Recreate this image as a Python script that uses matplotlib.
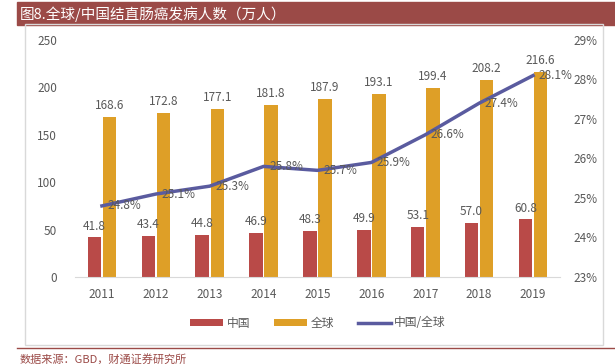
import matplotlib.pyplot as plt
import matplotlib.patches as patches
import matplotlib.lines as mlines
import numpy as np

plt.rcParams['font.family'] = ['Noto Sans CJK SC', 'DejaVu Sans']

# 数据
years = ['2011', '2012', '2013', '2014', '2015', '2016', '2017', '2018', '2019']
china = [41.8, 43.4, 44.8, 46.9, 48.3, 49.9, 53.1, 57.0, 60.8]
world = [168.6, 172.8, 177.1, 181.8, 187.9, 193.1, 199.4, 208.2, 216.6]
ratio = [24.8, 25.1, 25.3, 25.8, 25.7, 25.9, 26.6, 27.4, 28.1]

c_china = '#B94A48'
c_world = '#DE9F27'
c_line = '#5A5B9F'
c_text = '#595959'

W, H = 615, 364
fig = plt.figure(figsize=(W / 100, H / 100), dpi=100)

# 标题栏
fig.patches.append(patches.Rectangle((17 / W, 1 - 25 / H), 1 - 17 / W, 23 / H,
                                     transform=fig.transFigure, color='#9B4A47', zorder=0))
fig.text(20 / W, 1 - 14 / H, '图8.全球/中国结直肠癌发病人数（万人）', color='white',
         fontsize=10.5, va='center', ha='left')

# 图表外框
fig.patches.append(patches.Rectangle((25 / W, 1 - 345 / H), 578 / W, 321 / H,
                                     transform=fig.transFigure, fill=False,
                                     edgecolor='#D9D9D9', linewidth=1, zorder=0))
# 底部分隔线
fig.lines.append(mlines.Line2D([17 / W, 1], [1 - 347.5 / H] * 2, transform=fig.transFigure,
                               color='#9B4A47', linewidth=1))
fig.text(20 / W, 1 - 359 / H, '数据来源：GBD，财通证券研究所', color='#9B4A47',
         fontsize=8, va='center', ha='left')

ax = fig.add_axes([75 / W, 87 / H, 485 / W, 237 / H])
x = np.arange(len(years))
bw = 0.25
ax.bar(x - bw / 2 - 0.015, china, bw, color=c_china, label='中国', zorder=2)
ax.bar(x + bw / 2 + 0.015, world, bw, color=c_world, label='全球', zorder=2)
for i in range(len(years)):
    ax.text(x[i] - bw / 2 - 0.015, china[i] + 5, f'{china[i]:.1f}', ha='center', va='bottom',
            fontsize=8.5, color=c_text)
    ax.text(x[i] + bw / 2 + 0.015, world[i] + 5, f'{world[i]:.1f}', ha='center', va='bottom',
            fontsize=8.5, color=c_text)

ax.set_ylim(0, 250)
ax.set_yticks(range(0, 251, 50))
ax.set_xlim(-0.5, len(years) - 0.5)
ax.set_xticks(x)
ax.set_xticklabels(years)
for s in ['top', 'right', 'left']:
    ax.spines[s].set_visible(False)
ax.spines['bottom'].set_color('#D9D9D9')
ax.tick_params(length=0, labelsize=8.5, labelcolor=c_text)
ax.tick_params(axis='y', pad=13)
ax.tick_params(axis='x', pad=8)

ax2 = ax.twinx()
ax2.plot(x, ratio, color=c_line, linewidth=2.5, label='中国/全球', zorder=3)
for i in range(len(years)):
    ax2.annotate(f'{ratio[i]:.1f}%', (x[i], ratio[i]), xytext=(4, 0), textcoords='offset points',
                 ha='left', va='center', fontsize=8.5, color=c_text)
ax2.set_ylim(23, 29)
ax2.set_yticks(range(23, 30))
ax2.set_yticklabels([f'{v}%' for v in range(23, 30)])
for s in ['top', 'right', 'left', 'bottom']:
    ax2.spines[s].set_visible(False)
ax2.tick_params(length=0, labelsize=8.5, labelcolor=c_text, pad=10)

h1, l1 = ax.get_legend_handles_labels()
h2, l2 = ax2.get_legend_handles_labels()
fig.legend(h1 + h2, l1 + l2, loc='center', bbox_to_anchor=(318 / W, 1 - 323 / H), ncol=3,
           frameon=False, fontsize=8.5, labelcolor=c_text, handlelength=2.8,
           handleheight=0.6, columnspacing=2.0, handletextpad=0.3)

fig.savefig('out.png', dpi=100)
